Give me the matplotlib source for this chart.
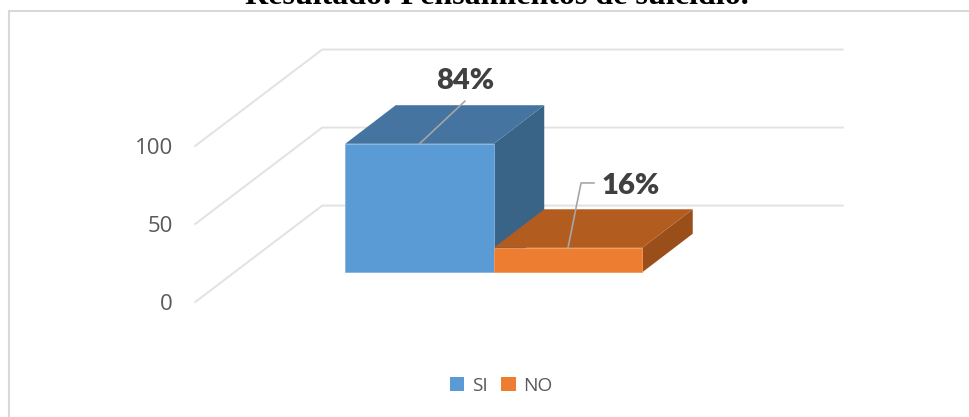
import matplotlib
matplotlib.use("Agg")
import matplotlib.pyplot as plt
from matplotlib.patches import Polygon, Rectangle

# --- Chart data ---
categories = ["SI", "NO"]
values = [84, 16]
value_labels = ["84%", "16%"]
y_ticks = [0, 50, 100]

# --- Colours ---
front_colors = ["#5B9BD5", "#ED7D31"]
front_edges = ["#85B5E2", "#F29A5C"]
top_colors = ["#44749F", "#B35C20"]
side_colors = ["#396488", "#9A4F1B"]
grid_color = "#E2E2E2"
text_color = "#595959"
label_color = "#404040"

# --- Oblique projection, in data units ---
bar_depth_x = 0.34
bar_depth_y = 25.2
wall_depth_x = 0.855
wall_depth_y = 63.0
floor_x = -1.51     # front edge of the floor on the left wall
floor_y = -19.4     # value 0 on the front of the left wall
wall_scale = 1.02   # the wall ticks are spaced a little wider than the bars
grid_right = 2.85

W, H = 970, 417
PX_X, PX_Y = 148.5, 1.53    # pixels per category, pixels per value unit
X0, Y0 = 419.5, 272.3       # pixel position of the first bar centre and of the baseline

fig = plt.figure(figsize=(W / 100, H / 100), dpi=100)
ax = fig.add_axes([0, 0, 1, 1])
ax.set_xlim(-X0 / PX_X, (W - X0) / PX_X)
ax.set_ylim(-(H - Y0) / PX_Y, Y0 / PX_Y)
ax.axis("off")

# Chart frame: only the left and top edges fall on the canvas
frame_x = (9 - X0) / PX_X
frame_y = (Y0 - 11) / PX_Y
ax.plot([frame_x, frame_x, (W - X0) / PX_X], [-(H - Y0) / PX_Y, frame_y, frame_y],
        color="#D9D9D9", lw=1.5, zorder=1, solid_joinstyle="miter")

# Wall gridlines with their tick labels
for tick in y_ticks:
    y0 = floor_y + tick * wall_scale
    ax.plot([floor_x, floor_x + wall_depth_x, grid_right],
            [y0, y0 + wall_depth_y, y0 + wall_depth_y],
            color=grid_color, lw=1.4, zorder=2, solid_joinstyle="miter")
    ax.text(floor_x - 0.15, y0 - 1.5, str(tick), ha="right", va="center",
            fontsize=16, color=text_color, family="Open Sans")

# Bars, back to front
for i, (val, cat) in enumerate(zip(values, categories)):
    x0, x1 = i - 0.5, i + 0.5
    ax.add_patch(Polygon([(x1, 0), (x1 + bar_depth_x, bar_depth_y),
                          (x1 + bar_depth_x, val + bar_depth_y), (x1, val)],
                         fc=side_colors[i], ec="none", zorder=3 + i))
    ax.add_patch(Polygon([(x0, val), (x0 + bar_depth_x, val + bar_depth_y),
                          (x1 + bar_depth_x, val + bar_depth_y), (x1, val)],
                         fc=top_colors[i], ec="none", zorder=3 + i))
    ax.add_patch(Rectangle((x0, 0), 1, val, fc=front_colors[i], ec=front_edges[i],
                           lw=0.6, zorder=5 + i))

# Leader lines and value labels
ax.plot([0, 0.305], [values[0], values[0] + 27.8], color="#A6A6A6", lw=1.2, zorder=8)
ax.text(0.31, 125, value_labels[0], ha="center", va="center", fontsize=21,
        fontweight="heavy", color=label_color, family="Lato", zorder=9)
ax.plot([1.0, 1.088, 1.175], [values[1], 58.4, 58.4], color="#A6A6A6", lw=1.2, zorder=8)
ax.text(1.42, 56.2, value_labels[1], ha="center", va="center", fontsize=21,
        fontweight="heavy", color=label_color, family="Lato", zorder=9)

# Legend
handles = [Rectangle((0, 0), 1, 1, fc=c, ec="none") for c in front_colors]
ax.legend(handles, categories, loc="center", bbox_to_anchor=(501 / W, 1 - 386 / H), ncol=2,
          frameon=False, labelcolor=text_color, handlelength=0.76,
          handleheight=0.76, handletextpad=0.38, columnspacing=0.72,
          prop={"family": "Open Sans", "size": 13.8})

# Title runs off the top of the canvas
fig.text(497 / W, 1 - 4 / H, "Resultado: Pensamientos de suicidio.", ha="center", va="baseline",
         fontsize=23, fontweight="bold", family="Liberation Serif", color="black")

fig.savefig("out.png", dpi=100)
